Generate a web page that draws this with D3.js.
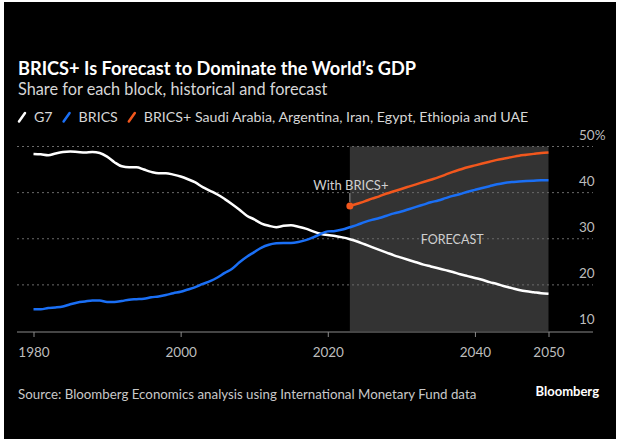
<!DOCTYPE html>
<html>
<head>
<meta charset="utf-8">
<script src="https://cdn.jsdelivr.net/npm/d3@7"></script>
<style>
  html, body { margin: 0; padding: 0; background: #ffffff; }
  svg { display: block; }
</style>
</head>
<body>
<svg id="chart" width="621" height="439"></svg>
<script>
// Share of world GDP (%), by bloc
const histYears = d3.range(1980, 2024);
const fcstYears = d3.range(2024, 2051);
const years = histYears.concat(fcstYears);

const g7Share = [
  48.4, 48.3, 48.1, 48.5, 48.8, 48.9, 48.8, 48.7, 48.8, 48.6,
  47.8, 46.6, 45.7, 45.5, 45.5, 45.0, 44.5, 44.2, 44.2, 43.9,
  43.5, 42.9, 42.2, 41.2, 40.4, 39.6, 38.6, 37.5, 36.3, 35.0,
  34.2, 33.3, 32.8, 32.5, 32.8, 32.9, 32.6, 32.2, 31.6, 31.1,
  30.8, 30.6, 30.3, 29.9,
  29.4, 28.8, 28.2, 27.6, 27.0, 26.4, 25.9, 25.4, 24.9, 24.4,
  24.0, 23.6, 23.2, 22.8, 22.3, 21.9, 21.5, 21.1, 20.6, 20.2,
  19.7, 19.3, 18.9, 18.6, 18.4, 18.2, 18.1
];

const bricsShare = [
  14.7, 14.7, 15.0, 15.1, 15.3, 15.8, 16.2, 16.4, 16.6, 16.6,
  16.3, 16.3, 16.5, 16.8, 16.9, 17.0, 17.3, 17.5, 17.8, 18.2,
  18.5, 19.0, 19.5, 20.2, 20.8, 21.6, 22.6, 23.5, 24.9, 26.1,
  27.1, 28.1, 28.7, 29.0, 29.1, 29.1, 29.3, 29.7, 30.3, 31.0,
  31.6, 31.7, 32.0, 32.5,
  33.0, 33.6, 34.1, 34.5, 35.0, 35.5, 35.9, 36.4, 36.9, 37.4,
  37.9, 38.3, 38.8, 39.3, 39.7, 40.2, 40.6, 41.0, 41.4, 41.8,
  42.1, 42.3, 42.4, 42.5, 42.6, 42.7, 42.7
];

const bricsPlusYears = d3.range(2023, 2051);
const bricsPlusShare = [
  37.1, 37.6, 38.1, 38.7, 39.2, 39.8, 40.3, 40.8, 41.3, 41.8,
  42.3, 42.8, 43.3, 43.9, 44.5, 45.0, 45.5, 45.9, 46.3, 46.7,
  47.1, 47.4, 47.7, 48.0, 48.2, 48.4, 48.6, 48.7
];

const xTicks = [1980, 2000, 2020, 2040, 2050];
const yTicks = [10, 20, 30, 40, 50];
const forecastStart = 2023;
const forecastEnd = 2050;

const legendItems = [
  { label: "G7", color: "#ffffff" },
  { label: "BRICS", color: "#1a6ff5" },
  { label: "BRICS+ Saudi Arabia, Argentina, Iran, Egypt, Ethiopia and UAE", color: "#f2571d" }
];

const FONT = "Lato, 'Open Sans', sans-serif";

const svg = d3.select("#chart");

// dark card with a thin light frame on top and sides
svg.append("rect")
  .attr("x", 4).attr("y", 2).attr("width", 612).attr("height", 437)
  .attr("fill", "#000000");

const x = d3.scaleLinear().domain([1980, 2050]).range([33.5, 548.5]);
const y = d3.scaleLinear().domain([10, 50]).range([331, 146.5]);

// forecast band
svg.append("rect")
  .attr("x", x(forecastStart))
  .attr("y", y(50))
  .attr("width", x(forecastEnd) - x(forecastStart))
  .attr("height", y(10) - y(50))
  .attr("fill", "#333333");

// dotted horizontal gridlines
svg.append("g")
  .selectAll("line")
  .data(yTicks.filter(d => d > 10))
  .join("line")
  .attr("x1", 17).attr("x2", 593)
  .attr("y1", d => y(d)).attr("y2", d => y(d))
  .attr("stroke", "#6a6a6a")
  .attr("stroke-width", 1)
  .attr("stroke-dasharray", "2,3");

// right-hand value labels sit above their gridlines
svg.append("g")
  .selectAll("text")
  .data(yTicks)
  .join("text")
  .attr("x", 579)
  .attr("y", d => y(d) - 7)
  .attr("fill", "#bdbdbd")
  .attr("font-family", FONT)
  .attr("font-size", 13.5)
  .text(d => d === 50 ? "50%" : d);

// x axis
const xAxis = d3.axisBottom(x)
  .tickValues(xTicks)
  .tickFormat(d3.format("d"))
  .tickSize(5)
  .tickPadding(10);

const gx = svg.append("g")
  .attr("transform", `translate(0,${y(10) + 1})`)
  .call(xAxis);
gx.select(".domain").remove();
gx.append("line")
  .attr("x1", 17).attr("x2", 593)
  .attr("y1", 0).attr("y2", 0)
  .attr("stroke", "#8a8a8a");
gx.selectAll(".tick line").attr("stroke", "#8a8a8a");
gx.selectAll(".tick text")
  .attr("fill", "#bdbdbd")
  .attr("font-family", FONT)
  .attr("font-size", 13.5);

// series lines
const line = d3.line()
  .x(d => x(d[0]))
  .y(d => y(d[1]))
  .curve(d3.curveMonotoneX);

const g7Data = years.map((yr, i) => [yr, g7Share[i]]);
const bricsData = years.map((yr, i) => [yr, bricsShare[i]]);
const bricsPlusData = bricsPlusYears.map((yr, i) => [yr, bricsPlusShare[i]]);

svg.append("path").datum(g7Data)
  .attr("d", line).attr("fill", "none")
  .attr("stroke", "#ffffff").attr("stroke-width", 2.5)
  .attr("stroke-linejoin", "round");

svg.append("path").datum(bricsData)
  .attr("d", line).attr("fill", "none")
  .attr("stroke", legendItems[1].color).attr("stroke-width", 2.5)
  .attr("stroke-linejoin", "round");

svg.append("path").datum(bricsPlusData)
  .attr("d", line).attr("fill", "none")
  .attr("stroke", legendItems[2].color).attr("stroke-width", 2.5)
  .attr("stroke-linejoin", "round");

// start marker and annotation for BRICS+
const p0 = bricsPlusData[0];
svg.append("circle")
  .attr("cx", x(p0[0])).attr("cy", y(p0[1]))
  .attr("r", 3.5)
  .attr("fill", legendItems[2].color);

svg.append("line")
  .attr("x1", x(p0[0])).attr("x2", x(p0[0]))
  .attr("y1", y(p0[1]) - 4).attr("y2", 193)
  .attr("stroke", "#9a9a9a").attr("stroke-width", 1);

svg.append("text")
  .attr("x", x(p0[0]) + 1)
  .attr("y", 190)
  .attr("text-anchor", "middle")
  .attr("fill", "#d0d0d0")
  .attr("font-family", FONT)
  .attr("font-size", 13)
  .text("With BRICS+");

svg.append("text")
  .attr("x", (x(forecastStart) + x(forecastEnd)) / 2 + 3)
  .attr("y", 244)
  .attr("text-anchor", "middle")
  .attr("fill", "#cfcfcf")
  .attr("font-family", FONT)
  .attr("font-size", 12.5)
  .text("FORECAST");

// headings
svg.append("text")
  .attr("x", 18).attr("y", 74.5)
  .attr("fill", "#ffffff")
  .attr("font-family", FONT)
  .attr("font-weight", 700)
  .attr("font-size", 18.2)
  .text("BRICS+ Is Forecast to Dominate the World\u2019s GDP");

svg.append("text")
  .attr("x", 18).attr("y", 95)
  .attr("fill", "#d6d6d6")
  .attr("font-family", FONT)
  .attr("font-size", 16.3)
  .text("Share for each block, historical and forecast");

// legend: slanted colour swatch followed by label
const lg = svg.append("g").attr("transform", "translate(18,122)");
let lx = 0;
legendItems.forEach(item => {
  lg.append("line")
    .attr("x1", lx + 1).attr("y1", -0.5)
    .attr("x2", lx + 7).attr("y2", -9)
    .attr("stroke", item.color)
    .attr("stroke-width", 2.5)
    .attr("stroke-linecap", "round");
  const t = lg.append("text")
    .attr("x", lx + 16).attr("y", 0)
    .attr("fill", "#d6d6d6")
    .attr("font-family", FONT)
    .attr("font-size", 14.2)
    .text(item.label);
  lx += 16 + t.node().getComputedTextLength() + 10;
});

// footer
svg.append("text")
  .attr("x", 18).attr("y", 399)
  .attr("fill", "#c8c8c8")
  .attr("font-family", FONT)
  .attr("font-size", 13.3)
  .text("Source: Bloomberg Economics analysis using International Monetary Fund data");

svg.append("text")
  .attr("x", 599).attr("y", 396)
  .attr("text-anchor", "end")
  .attr("fill", "#ffffff")
  .attr("font-family", FONT)
  .attr("font-weight", 700)
  .attr("font-size", 13)
  .text("Bloomberg");
</script>
</body>
</html>
